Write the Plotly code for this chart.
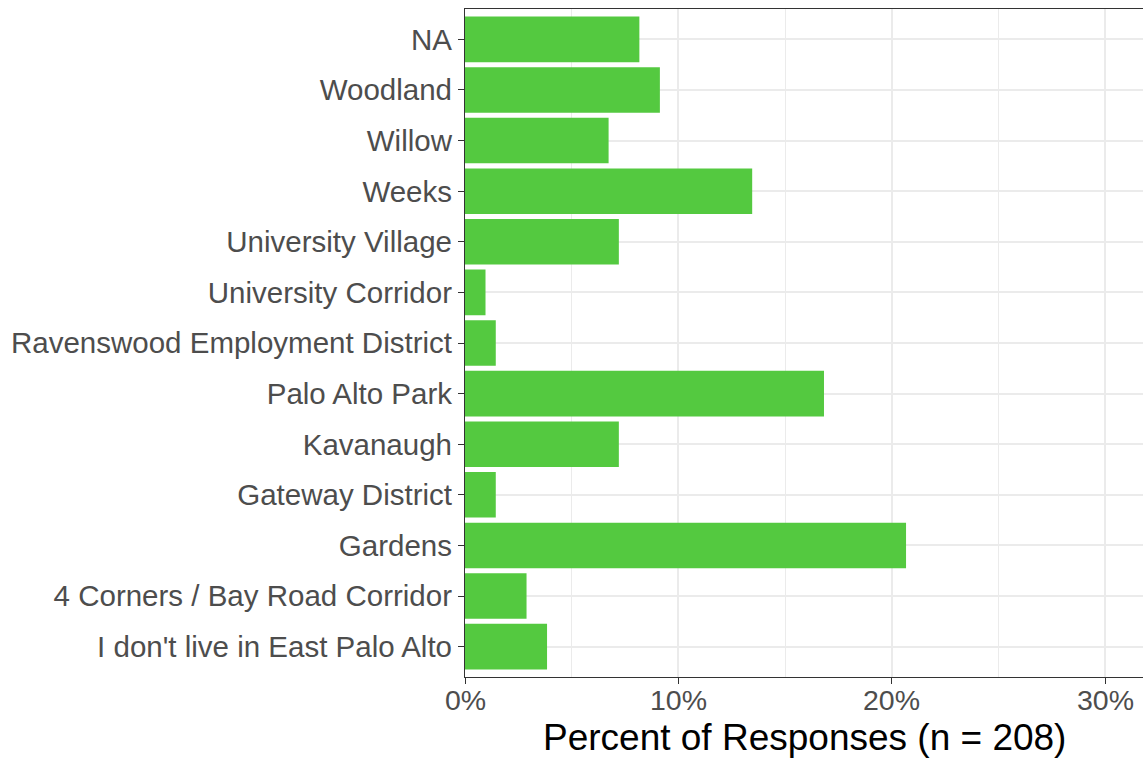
import plotly.graph_objects as go

categories = ["I don't live in East Palo Alto", "4 Corners / Bay Road Corridor", "Gardens",
              "Gateway District", "Kavanaugh", "Palo Alto Park", "Ravenswood Employment District",
              "University Corridor", "University Village", "Weeks", "Willow", "Woodland", "NA"]
counts = [8, 6, 43, 3, 15, 35, 3, 2, 15, 28, 14, 19, 17]
n_total = 208
percents = [c / n_total for c in counts]
x_ticks = [0, 0.1, 0.2, 0.3]
x_tick_labels = ["0%", "10%", "20%", "30%"]
x_minor = [0.05, 0.15, 0.25]
x_title = "Percent of Responses (n = 208)"

W, H = 1143, 761
ML, MR, MT, MB = 465, 0, 9, 84
PH = H - MT - MB

fig = go.Figure()
fig.add_trace(go.Bar(
    y=categories, x=percents, orientation="h",
    marker=dict(color="#54C940", line=dict(width=0)),
    width=0.9,
))

fig.update_layout(
    width=W, height=H,
    margin=dict(l=ML, r=MR, t=MT, b=MB, autoexpand=False),
    paper_bgcolor="white", plot_bgcolor="white",
    font=dict(family="Liberation Sans, Arial, sans-serif", color="#4D4D4D"),
    showlegend=False,
)
fig.update_xaxes(
    range=[0, 0.3178], tickvals=x_ticks, showticklabels=False,
    showgrid=True, gridcolor="#EBEBEB", gridwidth=2,
    minor=dict(tickvals=x_minor, showgrid=True, gridcolor="#EBEBEB", gridwidth=1, ticks=""),
    ticks="outside", ticklen=6, tickcolor="#333333", tickwidth=1.2,
    showline=True, linecolor="#333333", linewidth=1.2, mirror=True,
    zeroline=False, automargin=False,
)
fig.update_yaxes(
    categoryorder="array", categoryarray=categories,
    range=[-0.6, 12.6],
    tickfont=dict(size=29.5, color="#4D4D4D"),
    showgrid=True, gridcolor="#EBEBEB", gridwidth=2,
    ticks="outside", ticklen=6, tickcolor="#333333", tickwidth=1.2,
    showline=True, linecolor="#333333", linewidth=1.2, mirror=False,
    zeroline=False, automargin=False,
)
for tv, tl in zip(x_ticks, x_tick_labels):
    fig.add_annotation(
        text=tl, xref="x", yref="paper", x=tv,
        y=-(700 - (H - MB)) / PH, yanchor="middle", xanchor="center",
        showarrow=False, font=dict(size=28.5, color="#4D4D4D"),
    )
fig.add_annotation(
    text=x_title, xref="paper", yref="paper",
    x=0.5, y=-(737 - (H - MB)) / PH, yanchor="middle", xanchor="center",
    showarrow=False, font=dict(size=37, color="black"),
)

fig.write_html("out.html", config={"displayModeBar": False},
               post_script="document.body.style.margin='0';document.body.style.overflow='hidden';")
